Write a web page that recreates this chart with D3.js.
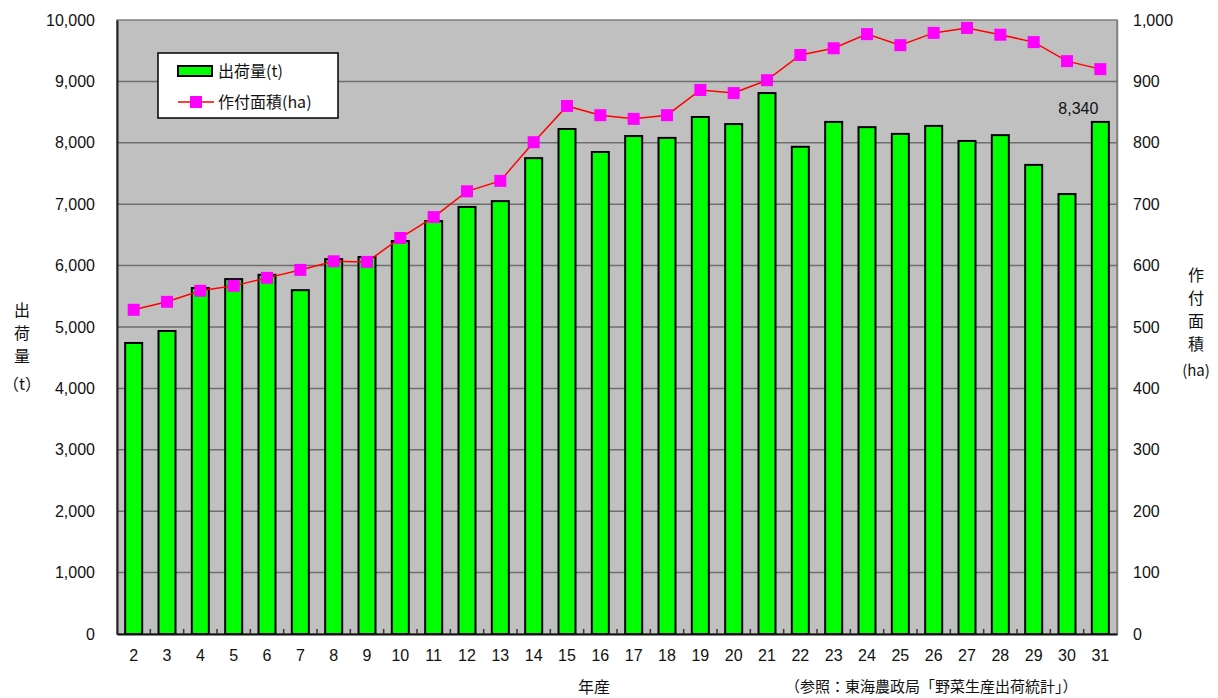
<!DOCTYPE html>
<html>
<head>
<meta charset="utf-8">
<script src="https://cdn.jsdelivr.net/npm/d3@7"></script>
<style>
  body { margin: 0; background: #fff; }
  text { font-family: "Liberation Sans", Arial, sans-serif; }
  .jp { font-family: "Noto Sans CJK JP", sans-serif; }
</style>
</head>
<body>
<svg width="1218" height="698"></svg>
<script>
const years = ['2','3','4','5','6','7','8','9','10','11','12','13','14','15','16','17','18','19','20','21','22','23','24','25','26','27','28','29','30','31'];
const shipment = [4740, 4935, 5635, 5780, 5850, 5600, 6105, 6140, 6400, 6725, 6955, 7050, 7750, 8225, 7850, 8110, 8080, 8420, 8305, 8810, 7935, 8340, 8255, 8145, 8275, 8030, 8125, 7640, 7165, 8340];
const area = [528, 541, 559, 567, 580, 593, 607, 606, 645, 679, 721, 738, 801, 860, 845, 839, 845, 886, 881, 902, 943, 954, 977, 959, 979, 987, 976, 964, 933, 920];
const leftTicks = [0, 1000, 2000, 3000, 4000, 5000, 6000, 7000, 8000, 9000, 10000];
const rightTicks = [0, 100, 200, 300, 400, 500, 600, 700, 800, 900, 1000];

const svg = d3.select('svg');
const plot = { left: 117, right: 1117, top: 20, bottom: 634 };

const x = d3.scaleBand().domain(years).range([plot.left, plot.right]);
const yL = d3.scaleLinear().domain([0, 10000]).range([plot.bottom, plot.top]);
const yR = d3.scaleLinear().domain([0, 1000]).range([plot.bottom, plot.top]);
const fmt = d3.format(',');

// plot background
svg.append('rect')
  .attr('x', plot.left).attr('y', plot.top)
  .attr('width', plot.right - plot.left).attr('height', plot.bottom - plot.top)
  .attr('fill', '#c0c0c0').attr('stroke', '#808080').attr('stroke-width', 1.5);

// gridlines
svg.append('g').selectAll('line').data(leftTicks.slice(1, -1)).join('line')
  .attr('x1', plot.left).attr('x2', plot.right)
  .attr('y1', d => yL(d)).attr('y2', d => yL(d))
  .attr('stroke', '#6e6e6e').attr('stroke-width', 1.5);

// bars
const bw = 17;
svg.append('g').selectAll('rect').data(shipment).join('rect')
  .attr('x', (d, i) => x(years[i]) + x.bandwidth() / 2 - bw / 2)
  .attr('y', d => yL(d))
  .attr('width', bw)
  .attr('height', d => yL(0) - yL(d))
  .attr('fill', '#00ff00').attr('stroke', '#000').attr('stroke-width', 2);

// left axis
const axL = svg.append('g').attr('transform', `translate(${plot.left},0)`)
  .call(d3.axisLeft(yL).tickValues(leftTicks).tickFormat(fmt).tickSize(0).tickPadding(22));
axL.select('.domain').attr('stroke', '#222').attr('stroke-width', 2);
axL.selectAll('text').attr('font-size', 16).attr('fill', '#111');

// right axis
const axR = svg.append('g').attr('transform', `translate(${plot.right},0)`)
  .call(d3.axisRight(yR).tickValues(rightTicks).tickFormat(fmt).tickSize(0).tickPadding(16));
axR.select('.domain').attr('stroke', '#808080').attr('stroke-width', 1.5);
axR.selectAll('text').attr('font-size', 16).attr('fill', '#111');

// bottom axis
const axB = svg.append('g').attr('transform', `translate(0,${plot.bottom})`)
  .call(d3.axisBottom(x).tickSize(0).tickPadding(16));
axB.select('.domain').attr('stroke', '#111').attr('stroke-width', 2);
axB.selectAll('text').attr('font-size', 16).attr('fill', '#111');
// small category boundary ticks pointing up
svg.append('g').selectAll('line').data(years.slice(1)).join('line')
  .attr('x1', d => x(d)).attr('x2', d => x(d))
  .attr('y1', plot.bottom).attr('y2', plot.bottom - 5)
  .attr('stroke', '#333').attr('stroke-width', 1.5);

// line series
const line = d3.line().x((d, i) => x(years[i]) + x.bandwidth() / 2).y(d => yR(d));
svg.append('path').datum(area)
  .attr('d', line).attr('fill', 'none').attr('stroke', '#ff0000').attr('stroke-width', 1.5);
const ms = 12;
svg.append('g').selectAll('rect').data(area).join('rect')
  .attr('x', (d, i) => x(years[i]) + x.bandwidth() / 2 - ms / 2)
  .attr('y', d => yR(d) - ms / 2)
  .attr('width', ms).attr('height', ms)
  .attr('fill', '#ff00ff');

// last value label
const last = shipment.length - 1;
svg.append('text')
  .attr('x', x(years[last]) + x.bandwidth() / 2 - 2)
  .attr('y', yL(shipment[last]) - 8)
  .attr('text-anchor', 'end').attr('font-size', 16).attr('fill', '#111')
  .text(fmt(shipment[last]));

// legend
const lg = svg.append('g').attr('transform', 'translate(158,53)');
lg.append('rect').attr('width', 180).attr('height', 65)
  .attr('fill', '#fff').attr('stroke', '#000').attr('stroke-width', 1.5);
lg.append('rect').attr('x', 20).attr('y', 13).attr('width', 34).attr('height', 10)
  .attr('fill', '#00ff00').attr('stroke', '#000').attr('stroke-width', 2);
lg.append('text').attr('class', 'jp').attr('x', 60).attr('y', 24).attr('font-size', 16).attr('fill', '#111').text('出荷量(t)');
lg.append('line').attr('x1', 20).attr('x2', 56).attr('y1', 49).attr('y2', 49)
  .attr('stroke', '#ff0000').attr('stroke-width', 1.5);
lg.append('rect').attr('x', 32).attr('y', 43).attr('width', 12).attr('height', 12).attr('fill', '#ff00ff');
lg.append('text').attr('class', 'jp').attr('x', 60).attr('y', 55).attr('font-size', 16).attr('fill', '#111').text('作付面積(ha)');

// axis titles
const leftTitle = ['出', '荷', '量'];
svg.append('g').selectAll('text').data(leftTitle).join('text')
  .attr('class', 'jp').attr('x', 22).attr('y', (d, i) => 316 + i * 23)
  .attr('text-anchor', 'middle').attr('font-size', 16).attr('fill', '#111').text(d => d);
svg.append('text').attr('class', 'jp').attr('x', 22).attr('y', 390)
  .attr('text-anchor', 'middle').attr('font-size', 16).attr('fill', '#111').text('（t）');

const rightTitle = ['作', '付', '面', '積'];
svg.append('g').selectAll('text').data(rightTitle).join('text')
  .attr('class', 'jp').attr('x', 1196).attr('y', (d, i) => 281 + i * 23)
  .attr('text-anchor', 'middle').attr('font-size', 16).attr('fill', '#111').text(d => d);
svg.append('text').attr('class', 'jp').attr('x', 1196).attr('y', 376)
  .attr('text-anchor', 'middle').attr('font-size', 15).attr('fill', '#111').text('(ha)');

svg.append('text').attr('class', 'jp').attr('x', 594).attr('y', 693)
  .attr('text-anchor', 'middle').attr('font-size', 16).attr('fill', '#111').text('年産');

svg.append('text').attr('class', 'jp').attr('x', 785).attr('y', 692)
  .attr('font-size', 15).attr('fill', '#111').text('（参照：東海農政局「野菜生産出荷統計」）');
</script>
</body>
</html>
